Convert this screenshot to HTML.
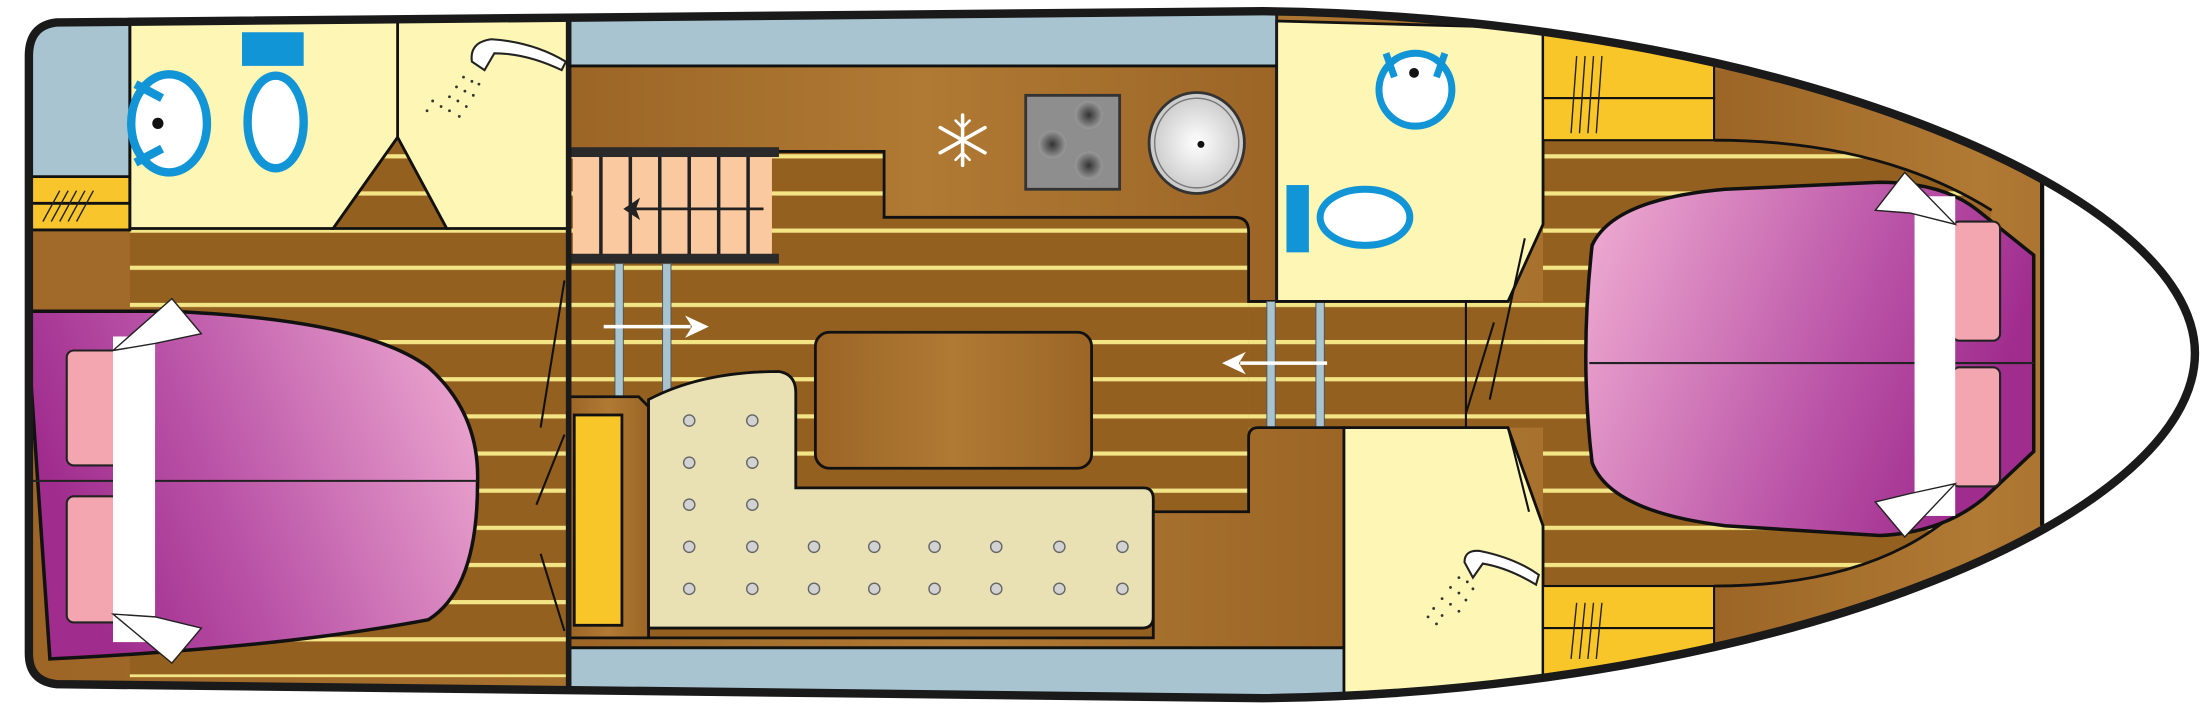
<!DOCTYPE html>
<html><head><meta charset="utf-8"><style>html,body{margin:0;padding:0;background:#fff}svg{display:block}</style></head><body>
<svg width="2200" height="708" viewBox="0 0 1568 505" xmlns="http://www.w3.org/2000/svg">
<defs>
<pattern id="pl" patternUnits="userSpaceOnUse" width="1568" height="26.5" y="4">
<rect width="1568" height="26.5" fill="#93601f"/>
<rect width="1568" height="3" fill="#f3e586"/>
</pattern>
<linearGradient id="wood" x1="0" x2="1"><stop offset="0" stop-color="#9c6526"/><stop offset="0.5" stop-color="#b07a34"/><stop offset="1" stop-color="#9c6526"/></linearGradient>
<linearGradient id="bedL" x1="0" y1="0.3" x2="1" y2="0"><stop offset="0" stop-color="#a02d8e"/><stop offset="0.35" stop-color="#bb55a8"/><stop offset="1" stop-color="#f1afd3"/></linearGradient>
<linearGradient id="bedR" x1="0" y1="0" x2="1" y2="0.3"><stop offset="0" stop-color="#f1afd3"/><stop offset="0.65" stop-color="#bb55a8"/><stop offset="1" stop-color="#a02d8e"/></linearGradient>
<radialGradient id="sink"><stop offset="0" stop-color="#fff"/><stop offset="1" stop-color="#c9c9c9"/></radialGradient>
<radialGradient id="hob"><stop offset="0" stop-color="#333"/><stop offset="1" stop-color="#9a9a9a"/></radialGradient>
<clipPath id="hull"><path d="M40,16 L900,8 C1260,12 1565,135 1565,252 C1565,372 1260,494 900,498 L40,488 Q20,486 20,466 L20,40 Q20,18 40,16 Z"/></clipPath>
</defs>
<g clip-path="url(#hull)">
<rect width="1568" height="505" fill="url(#wood)"/>
<!-- plank floors -->
<rect x="92" y="163" width="313" height="320" fill="url(#pl)"/>
<rect x="405" y="108" width="485" height="355" fill="url(#pl)"/>
<rect x="890" y="215" width="210" height="90" fill="url(#pl)"/>
<rect x="1100" y="100" width="300" height="318" fill="url(#pl)"/>
<!-- brown curved border around right bed area -->
<path d="M1222,100 L1222,50 L1600,50 L1600,460 L1222,460 L1222,418 Q1340,418 1400,360 L1420,150 Q1340,100 1222,100 Z" fill="url(#wood)"/>
<path d="M1222,100 Q1340,100 1420,150 M1222,418 Q1340,418 1400,360" fill="none" stroke="#111" stroke-width="2"/>
<!-- bow white -->
<rect x="1456" y="0" width="120" height="505" fill="#fff"/>
<line x1="1456" y1="130" x2="1456" y2="375" stroke="#111" stroke-width="3"/>
<!-- left stern -->
<rect x="15" y="10" width="77" height="116" fill="#a8c4d1"/>
<rect x="15" y="126" width="77" height="38" fill="#f8c62c"/>
<line x1="15" y1="145" x2="92" y2="145" stroke="#111" stroke-width="2"/>
<g stroke="#222" stroke-width="1"><line x1="30" y1="158" x2="42" y2="136"/><line x1="36" y1="158" x2="48" y2="136"/><line x1="42" y1="158" x2="54" y2="136"/><line x1="48" y1="158" x2="60" y2="136"/><line x1="54" y1="158" x2="66" y2="136"/></g>
<path d="M15,164 L92,164 L92,220 L15,220 Z" fill="#a26a2a"/>
<!-- blue strips -->
<rect x="405" y="5" width="505" height="42" fill="#a8c4d1"/>
<rect x="405" y="462" width="553" height="40" fill="#a8c4d1"/>

<!-- left wc & shower -->
<path d="M92,15 L405,11 L405,163 L318,163 L283,98 L237,163 L92,163 Z" fill="#fdf6b4" stroke="#111" stroke-width="2"/>
<path d="M237,163 L283,98 L318,163 Z" fill="url(#pl)" stroke="#111" stroke-width="2"/>
<line x1="283" y1="15" x2="283" y2="98" stroke="#111" stroke-width="2"/>
<line x1="92" y1="15" x2="92" y2="165" stroke="#111" stroke-width="2"/>
<line x1="15" y1="126" x2="92" y2="126" stroke="#111" stroke-width="2"/>
<line x1="15" y1="164" x2="92" y2="164" stroke="#111" stroke-width="2"/>
<ellipse cx="120" cy="88" rx="27" ry="35" fill="#fff" stroke="#1195d6" stroke-width="6"/>
<circle cx="112" cy="88" r="4" fill="#111"/>
<line x1="96" y1="60" x2="115" y2="70" stroke="#1195d6" stroke-width="6"/>
<line x1="96" y1="116" x2="115" y2="106" stroke="#1195d6" stroke-width="6"/>
<rect x="172" y="23" width="44" height="24" fill="#1195d6"/>
<ellipse cx="196" cy="87" rx="20" ry="33" fill="#fff" stroke="#1195d6" stroke-width="6"/>
<path d="M336,44 Q334,30 350,28 Q380,30 403,44 L400,50 Q375,38 352,38 L345,50 Z" fill="#fff" stroke="#222" stroke-width="1.5"/>
<g fill="#333"><circle cx="330" cy="55" r="1"/><circle cx="325" cy="62" r="1"/><circle cx="320" cy="69" r="1"/><circle cx="314" cy="76" r="1"/><circle cx="336" cy="58" r="1"/><circle cx="331" cy="65" r="1"/><circle cx="326" cy="72" r="1"/><circle cx="320" cy="79" r="1"/><circle cx="341" cy="60" r="1"/><circle cx="337" cy="68" r="1"/><circle cx="332" cy="76" r="1"/><circle cx="327" cy="83" r="1"/><circle cx="308" cy="72" r="1"/><circle cx="304" cy="79" r="1"/></g>
<!-- left bed -->
<path d="M18,222 L120,222 Q260,228 305,262 Q342,295 340,345 Q340,420 305,442 Q200,462 35,470 Z" fill="url(#bedL)" stroke="#111" stroke-width="2.5"/>
<line x1="20" y1="343" x2="340" y2="343" stroke="#222" stroke-width="1.5"/>
<rect x="47" y="250" width="40" height="82" rx="5" fill="#f4a6b0" stroke="#222" stroke-width="1.5"/>
<rect x="47" y="354" width="40" height="90" rx="5" fill="#f4a6b0" stroke="#222" stroke-width="1.5"/>
<rect x="80" y="240" width="30" height="218" fill="#fff"/>
<path d="M80,250 L122,213 L143,238 L110,245 Z" fill="#fff" stroke="#222" stroke-width="1"/>
<path d="M80,438 L122,473 L143,448 L110,440 Z" fill="#fff" stroke="#222" stroke-width="1"/>
<line x1="385" y1="305" x2="402" y2="200" stroke="#111" stroke-width="1.5"/>
<line x1="385" y1="395" x2="402" y2="450" stroke="#111" stroke-width="1.5"/>
<line x1="382" y1="360" x2="402" y2="310" stroke="#111" stroke-width="1.5"/>
<!-- galley counter -->
<path d="M405,47 L910,47 L910,215 L890,215 L890,165 Q890,155 880,155 L630,155 L630,108 L405,108 Z" fill="url(#wood)" stroke="#111" stroke-width="2"/>
<rect x="408" y="110" width="142" height="75" fill="#fbc99f"/>
<g stroke="#222" stroke-width="2.5"><line x1="428" y1="112" x2="428" y2="183"/><line x1="449" y1="112" x2="449" y2="183"/><line x1="470" y1="112" x2="470" y2="183"/><line x1="491" y1="112" x2="491" y2="183"/><line x1="512" y1="112" x2="512" y2="183"/><line x1="533" y1="112" x2="533" y2="183"/></g>
<rect x="405" y="105" width="150" height="7" fill="#2a2a2a"/>
<rect x="405" y="181" width="150" height="7" fill="#2a2a2a"/>
<line x1="450" y1="149" x2="544" y2="149" stroke="#222" stroke-width="2"/>
<path d="M444,149 L456,141 L453,149 L456,157 Z" fill="#222"/>
<g stroke="#fff" stroke-width="2.5" stroke-linecap="round"><line x1="686" y1="82" x2="686" y2="118"/><line x1="670" y1="91" x2="702" y2="109"/><line x1="670" y1="109" x2="702" y2="91"/>
<path d="M681,86 L686,91 L691,86 M681,114 L686,109 L691,114" fill="none" stroke-width="1.8"/></g>
<rect x="731" y="68" width="67" height="67" fill="#8e8e8e" stroke="#333" stroke-width="2"/>
<circle cx="750" cy="103" r="10" fill="url(#hob)"/><circle cx="776" cy="82" r="10" fill="url(#hob)"/><circle cx="776" cy="118" r="10" fill="url(#hob)"/>
<ellipse cx="853" cy="102" rx="34" ry="36" fill="url(#sink)" stroke="#333" stroke-width="2"/>
<ellipse cx="853" cy="102" rx="30" ry="32" fill="none" stroke="#777" stroke-width="1"/>
<circle cx="856" cy="103" r="2.5" fill="#111"/>
<g fill="#a8c4d1" stroke="#555" stroke-width="0.7"><rect x="438" y="188" width="6" height="95"/><rect x="472" y="188" width="6" height="95"/><rect x="903" y="215" width="6" height="90"/><rect x="938" y="215" width="6" height="90"/></g>
<line x1="430" y1="233" x2="492" y2="233" stroke="#fff" stroke-width="2.5"/>
<path d="M505,233 L488,225 L493,233 L488,241 Z" fill="#fff"/>
<line x1="946" y1="259" x2="884" y2="259" stroke="#fff" stroke-width="2.5"/>
<path d="M871,259 L888,251 L883,259 L888,267 Z" fill="#fff"/>
<rect x="581" y="237" width="197" height="97" rx="10" fill="url(#wood)" stroke="#111" stroke-width="2"/>
<path d="M405,283 L455,283 L462,290 L462,455 L405,455 Z" fill="url(#wood)" stroke="#111" stroke-width="2"/>
<rect x="409" y="296" width="34" height="150" fill="#f9c62a" stroke="#111" stroke-width="2"/>
<path d="M462,285 Q500,265 555,265 Q567,267 567,280 L567,348 L815,348 Q822,348 822,356 L822,440 Q822,448 814,448 L462,448 Z" fill="#e9e1b4" stroke="#111" stroke-width="2"/>
<g fill="#d2d2d2" stroke="#666" stroke-width="1">
<circle cx="491" cy="300" r="4"/><circle cx="536" cy="300" r="4"/>
<circle cx="491" cy="330" r="4"/><circle cx="536" cy="330" r="4"/>
<circle cx="491" cy="360" r="4"/><circle cx="536" cy="360" r="4"/>
<circle cx="491" cy="390" r="4"/><circle cx="536" cy="390" r="4"/>
<circle cx="491" cy="420" r="4"/><circle cx="536" cy="420" r="4"/>
<circle cx="580" cy="390" r="4"/><circle cx="623" cy="390" r="4"/><circle cx="666" cy="390" r="4"/><circle cx="710" cy="390" r="4"/><circle cx="755" cy="390" r="4"/><circle cx="800" cy="390" r="4"/>
<circle cx="580" cy="420" r="4"/><circle cx="623" cy="420" r="4"/><circle cx="666" cy="420" r="4"/><circle cx="710" cy="420" r="4"/><circle cx="755" cy="420" r="4"/><circle cx="800" cy="420" r="4"/>
</g>
<path d="M822,365 L890,365 L890,312 Q890,305 897,305 L958,305 L958,462 L405,462 L405,455 L822,455 Z" fill="url(#wood)" stroke="#111" stroke-width="2"/>
<line x1="405" y1="462" x2="958" y2="462" stroke="#111" stroke-width="2"/>
<!-- right wc -->
<path d="M910,15 L1100,20 L1100,160 L1075,215 L910,215 Z" fill="#fdf6b4" stroke="#111" stroke-width="2"/>
<circle cx="1009" cy="64" r="26" fill="#fff" stroke="#1195d6" stroke-width="5"/>
<circle cx="1008" cy="52" r="3.5" fill="#111"/>
<line x1="988" y1="38" x2="994" y2="55" stroke="#1195d6" stroke-width="5"/>
<line x1="1030" y1="38" x2="1024" y2="55" stroke="#1195d6" stroke-width="5"/>
<rect x="917" y="132" width="16" height="48" fill="#1195d6"/>
<ellipse cx="973" cy="155" rx="32" ry="20" fill="#fff" stroke="#1195d6" stroke-width="5"/>
<!-- right shower -->
<path d="M958,305 L1075,305 L1100,375 L1100,500 L958,500 Z" fill="#fdf6b4" stroke="#111" stroke-width="2"/>
<path d="M1044,401 Q1044,392 1055,393 Q1080,398 1097,410 L1095,417 Q1075,405 1057,402 L1050,412 Z" fill="#fff" stroke="#222" stroke-width="1.5"/>
<g fill="#333"><circle cx="1040" cy="412" r="1"/><circle cx="1034" cy="419" r="1"/><circle cx="1028" cy="427" r="1"/><circle cx="1022" cy="434" r="1"/><circle cx="1046" cy="415" r="1"/><circle cx="1040" cy="423" r="1"/><circle cx="1034" cy="431" r="1"/><circle cx="1028" cy="439" r="1"/><circle cx="1050" cy="420" r="1"/><circle cx="1045" cy="428" r="1"/><circle cx="1040" cy="436" r="1"/><circle cx="1018" cy="440" r="1"/><circle cx="1024" cy="445" r="1"/></g>
<!-- right lockers -->
<g fill="#f9c62a" stroke="#111" stroke-width="1.5"><rect x="1100" y="20" width="122" height="50"/><rect x="1100" y="70" width="122" height="30"/><rect x="1100" y="418" width="122" height="30"/><rect x="1100" y="448" width="122" height="40"/></g>
<g stroke="#222" stroke-width="1"><line x1="1120" y1="95" x2="1124" y2="40"/><line x1="1126" y1="95" x2="1130" y2="40"/><line x1="1132" y1="95" x2="1136" y2="40"/><line x1="1138" y1="95" x2="1142" y2="40"/><line x1="1120" y1="470" x2="1124" y2="430"/><line x1="1126" y1="470" x2="1130" y2="430"/><line x1="1132" y1="470" x2="1136" y2="430"/><line x1="1138" y1="470" x2="1142" y2="430"/></g>
<g stroke="#111" stroke-width="1.5"><line x1="1062" y1="285" x2="1087" y2="170"/><line x1="1045" y1="305" x2="1045" y2="215"/><line x1="1045" y1="295" x2="1065" y2="230"/><line x1="1075" y1="305" x2="1090" y2="365"/></g>
<!-- right bed -->
<path d="M1135,175 Q1150,142 1230,135 L1340,130 Q1385,130 1410,150 L1450,182 L1450,322 L1415,355 Q1385,380 1340,382 L1230,375 Q1148,365 1135,330 Q1126,255 1135,175 Z" fill="url(#bedR)" stroke="#111" stroke-width="2.5"/>
<line x1="1133" y1="259" x2="1450" y2="259" stroke="#222" stroke-width="1.5"/>
<rect x="1392" y="158" width="34" height="85" rx="5" fill="#f4a6b0" stroke="#222" stroke-width="1.5"/>
<rect x="1392" y="262" width="34" height="85" rx="5" fill="#f4a6b0" stroke="#222" stroke-width="1.5"/>
<rect x="1365" y="140" width="29" height="228" fill="#fff"/>
<path d="M1394,160 L1358,123 L1337,150 L1362,152 Z" fill="#fff" stroke="#222" stroke-width="1"/>
<path d="M1394,345 L1358,383 L1337,358 L1362,352 Z" fill="#fff" stroke="#222" stroke-width="1"/>
<line x1="405" y1="5" x2="405" y2="500" stroke="#1a1a1a" stroke-width="4"/>
<line x1="910" y1="5" x2="910" y2="215" stroke="#1a1a1a" stroke-width="2"/>
<line x1="405" y1="47" x2="910" y2="47" stroke="#111" stroke-width="2"/>
</g>
<path d="M40,16 L900,8 C1260,12 1565,135 1565,252 C1565,372 1260,494 900,498 L40,488 Q20,486 20,466 L20,40 Q20,18 40,16 Z" fill="none" stroke="#1a1a1a" stroke-width="6"/>
</svg>
</body></html>
